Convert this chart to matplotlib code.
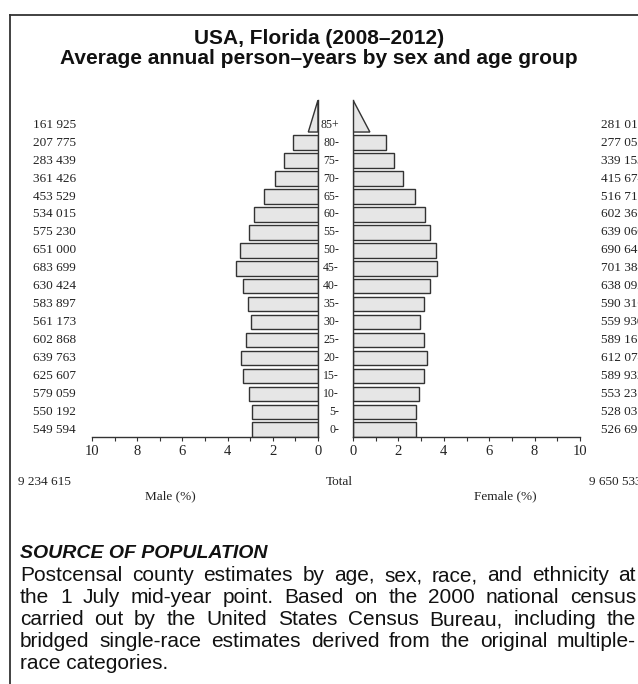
import matplotlib
matplotlib.use("Agg")
import matplotlib.pyplot as plt
import matplotlib.transforms as mtransforms
from matplotlib.lines import Line2D
from matplotlib.patches import Polygon
import numpy as np

# data (youngest group first)
age_groups = ['0-', '5-', '10-', '15-', '20-', '25-', '30-', '35-', '40-',
              '45-', '50-', '55-', '60-', '65-', '70-', '75-', '80-', '85+']
male = [549594, 550192, 579059, 625607, 639763, 602868, 561173, 583897, 630424,
        683699, 651000, 575230, 534015, 453529, 361426, 283439, 207775, 161925]
female = [526695, 528035, 553231, 589932, 612074, 589166, 559930, 590316, 638092,
          701384, 690646, 639060, 602365, 516713, 415674, 339153, 277052, 281015]
male_total = 9234615
female_total = 9650533

W, H = 638, 684
SERIF = 'Liberation Serif'
SANS = 'Liberation Sans'
BAR_FACE = '#e6e6e6'
EDGE = '#333333'
BAR_H = 0.81
TRI_TOP = 18.38


def fx(px):
    return px / W


def fy(py):
    return 1 - py / H


total = male_total + female_total
male_pct = np.array(male) / total * 100
female_pct = np.array(female) / total * 100
y = np.arange(len(age_groups))

fig = plt.figure(figsize=(W / 100, H / 100), dpi=100)

ax_top, ax_bot = 100, 437
ax_m = fig.add_axes([fx(92), fy(ax_bot), fx(318 - 92), (ax_bot - ax_top) / H])
ax_f = fig.add_axes([fx(353), fy(ax_bot), fx(580 - 353), (ax_bot - ax_top) / H])


def draw_side(ax, pct, spine_side):
    # all groups but the open-ended top one as bars
    ax.barh(y[:-1], pct[:-1], height=BAR_H, color=BAR_FACE, edgecolor=EDGE, linewidth=1)
    base = y[-1] - BAR_H / 2
    tri = Polygon([(0, base), (pct[-1] / 2, base), (0, TRI_TOP)], closed=True,
                  facecolor=BAR_FACE, edgecolor=EDGE, linewidth=1)
    ax.add_patch(tri)
    ax.set_ylim(-BAR_H / 2, TRI_TOP)
    for s in ['top', 'left', 'right']:
        ax.spines[s].set_visible(s == spine_side)
    for s in ['bottom', spine_side]:
        ax.spines[s].set_color(EDGE)
        ax.spines[s].set_linewidth(1)
    ax.set_yticks([])
    ax.set_xticks([0, 2, 4, 6, 8, 10])
    ax.set_xticks([1, 3, 5, 7, 9], minor=True)
    ax.tick_params(axis='x', which='both', direction='out', length=3, width=0.8,
                   color=EDGE, pad=3)
    for lab in ax.get_xticklabels():
        lab.set_fontfamily(SERIF)
        lab.set_fontsize(10.5)
        lab.set_color('#222222')


ax_m.set_xlim(10, 0)
draw_side(ax_m, male_pct, 'right')
ax_f.set_xlim(0, 10)
draw_side(ax_f, female_pct, 'left')

# row labels
tr = mtransforms.blended_transform_factory(fig.transFigure, ax_m.transData)
num_kw = dict(fontfamily=SERIF, fontsize=9.5, color='#222222', va='center')
for i, age in enumerate(age_groups):
    fig.text(fx(339), i, age, transform=tr, ha='right', fontfamily=SERIF,
             fontsize=8.5, color='#222222', va='center')
    fig.text(fx(33), i, f"{male[i]:,}".replace(',', ' '), transform=tr, ha='left', **num_kw)
    fig.text(fx(601), i, f"{female[i]:,}".replace(',', ' '), transform=tr, ha='left', **num_kw)

# totals and axis titles
fig.text(fx(18), fy(482), f"{male_total:,}".replace(',', ' '), ha='left', **num_kw)
fig.text(fx(589), fy(482), f"{female_total:,}".replace(',', ' '), ha='left', **num_kw)
fig.text(fx(339), fy(482), 'Total', ha='center', **num_kw)
fig.text(fx(170), fy(496), 'Male (%)', ha='center', **num_kw)
fig.text(fx(505), fy(496), 'Female (%)', ha='center', **num_kw)

# title
title_kw = dict(ha='center', va='center', fontfamily=SANS, fontweight='bold',
                fontsize=15, color='#111111')
fig.text(0.5, fy(38), 'USA, Florida (2008–2012)', **title_kw)
fig.text(0.5, fy(59), 'Average annual person–years by sex and age group', **title_kw)

# frame lines (left and top)
fig.add_artist(Line2D([fx(10), fx(10)], [0, fy(15)], color=EDGE, lw=1.3))
fig.add_artist(Line2D([fx(10), 1], [fy(15), fy(15)], color=EDGE, lw=1.3))

# source note
fig.text(fx(20), fy(558), 'SOURCE OF POPULATION', ha='left', va='baseline',
         fontfamily=SANS, fontweight='bold', fontstyle='italic', fontsize=14,
         color='#111111')

source_lines = [
    "Postcensal county estimates by age, sex, race, and ethnicity at",
    "the 1 July mid-year point. Based on the 2000 national census",
    "carried out by the United States Census Bureau, including the",
    "bridged single-race estimates derived from the original multiple-",
    "race categories.",
]


def justified(lines, x0, x1, y0, dy, **kw):
    # word-by-word placement so that full lines run from x0 to x1
    renderer = fig.canvas.get_renderer()
    for i, line in enumerate(lines):
        yy = fy(y0 + i * dy)
        if i == len(lines) - 1:
            fig.text(fx(x0), yy, line, ha='left', va='baseline', **kw)
            continue
        words = line.split()
        texts = [fig.text(0, yy, w, ha='left', va='baseline', **kw) for w in words]
        widths = [t.get_window_extent(renderer).width for t in texts]
        gap = (x1 - x0 - sum(widths)) / (len(words) - 1)
        x = x0
        for t, w in zip(texts, widths):
            t.set_x(fx(x))
            x += w + gap


justified(source_lines, 20, 636, 581, 22, fontfamily=SANS, fontsize=15, color='#111111')

fig.savefig('out.png', dpi=100)
